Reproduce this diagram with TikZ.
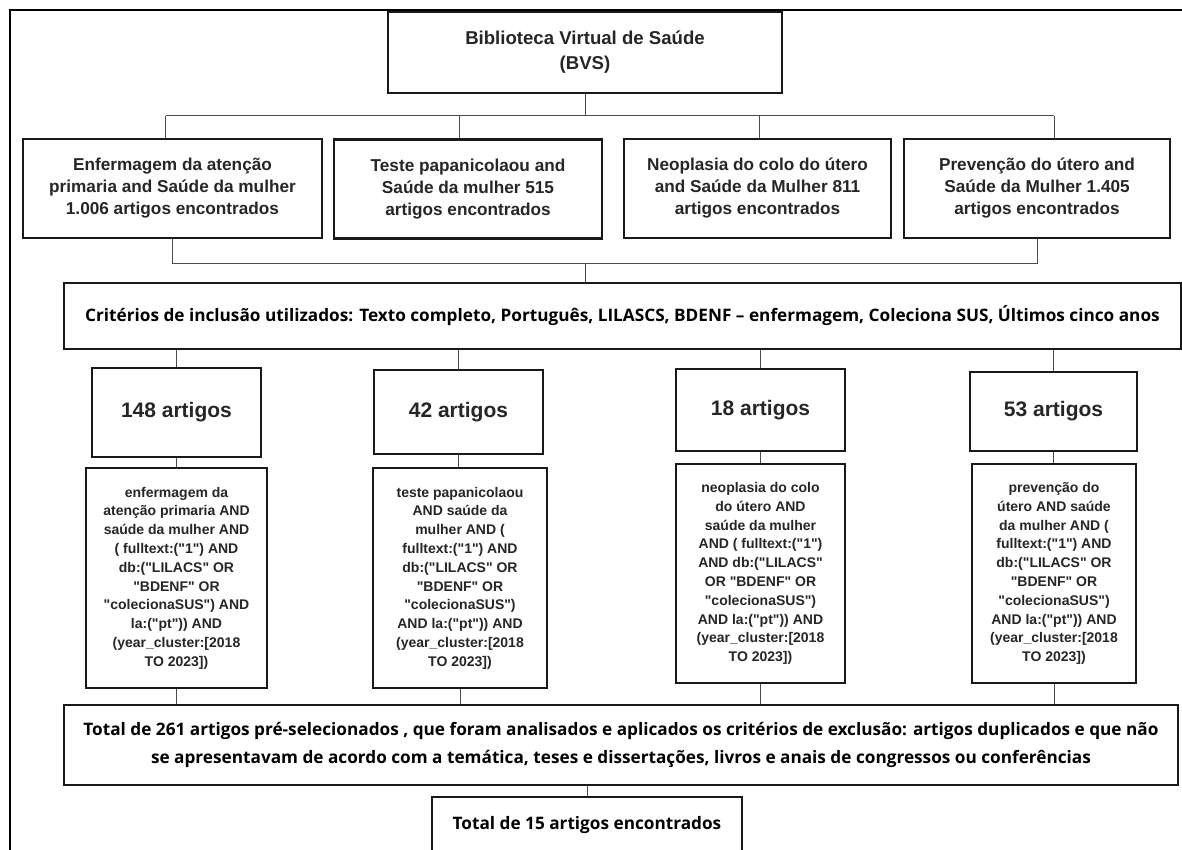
\documentclass[tikz,border=0pt]{standalone}
\usepackage{fontspec}
\setmainfont{Liberation Sans}[Ligatures=TeXOff]
\newfontfamily\opensans{Open Sans}
\tikzset{
  box/.style    = {rectangle, draw=black!90, line width=2.4pt, fill=white,
                   align=center, inner sep=0pt, text=black!85},
  topbox/.style = {box, minimum height=99pt,
                   font=\fontsize{17.2}{22}\selectfont\bfseries},
  cntbox/.style = {box, minimum width=169pt,
                   font=\fontsize{21}{25}\selectfont\bfseries},
  qrybox/.style = {box, minimum height=220pt,
                   font=\fontsize{14}{18.8}\selectfont\bfseries},
  widebox/.style= {box, line width=2pt, text=black,
                   font=\opensans\bfseries\fontsize{17.2}{28}\selectfont},
  link/.style   = {draw=black!70, line width=1pt},
}

\begin{document}
\begin{tikzpicture}[x=1pt, y=-1pt]
  \useasboundingbox (0,0) rectangle (1182,850);
  % frame
  \draw[line width=2pt] (10,850) -- (10,10) -- (1182,10);

  \node[box, minimum width=394pt, minimum height=81pt,
        font=\fontsize{18.6}{25}\selectfont\bfseries] (bvs) at (585,52.5)
        {Biblioteca Virtual de Saúde\\(BVS)};

  \node[topbox, minimum width=299pt] (t1) at (172.5,188.5)
        {Enfermagem da atenção\\primaria and Saúde da mulher\\1.006 artigos encontrados};
  \node[topbox, minimum width=268pt] (t2) at (468,189)
        {Teste papanicolaou and\\Saúde da mulher 515\\artigos encontrados};
  \node[topbox, minimum width=267pt] (t3) at (757.5,188.5)
        {Neoplasia do colo do útero\\and Saúde da Mulher 811\\artigos encontrados};
  \node[topbox, minimum width=266pt] (t4) at (1037,188.5)
        {Prevenção do útero and\\Saúde da Mulher 1.405\\artigos encontrados};

  \node[widebox, minimum width=1117pt, minimum height=66pt] (crit) at (622.5,316)
        {Critérios de inclusão utilizados: Texto completo, Português, LILASCS, BDENF – enfermagem, Coleciona SUS, Últimos cinco anos};

  \node[cntbox, minimum height=89pt] (c1) at (176.5,412.5) {148 artigos};
  \node[cntbox, minimum height=84pt] (c2) at (458.5,412) {42 artigos};
  \node[cntbox, minimum height=82pt] (c3) at (760.5,410) {18 artigos};
  \node[cntbox, minimum width=167pt, minimum height=79pt] (c4) at (1053.5,411.5) {53 artigos};

  \node[qrybox, minimum width=181pt] (q1) at (176.5,578)
        {enfermagem da\\atenção primaria AND\\saúde da mulher AND\\( fulltext:("1") AND\\db:("LILACS" OR\\"BDENF" OR\\"colecionaSUS") AND\\la:("pt")) AND\\(year\_cluster:[2018\\TO 2023])};
  \node[qrybox, minimum width=174pt] (q2) at (460,578)
        {teste papanicolaou\\AND saúde da\\mulher AND (\\fulltext:("1") AND\\db:("LILACS" OR\\"BDENF" OR\\"colecionaSUS")\\AND la:("pt")) AND\\(year\_cluster:[2018\\TO 2023])};
  \node[qrybox, minimum width=169pt, minimum height=219pt] (q3) at (760.5,573.5)
        {neoplasia do colo\\do útero AND\\saúde da mulher\\AND ( fulltext:("1")\\AND db:("LILACS"\\OR "BDENF" OR\\"colecionaSUS")\\AND la:("pt")) AND\\(year\_cluster:[2018\\TO 2023])};
  \node[qrybox, minimum width=164pt, minimum height=219pt] (q4) at (1054,573.5)
        {prevenção do\\útero AND saúde\\da mulher AND (\\fulltext:("1") AND\\db:("LILACS" OR\\"BDENF" OR\\"colecionaSUS")\\AND la:("pt")) AND\\(year\_cluster:[2018\\TO 2023])};

  \node[widebox, minimum width=1114pt, minimum height=80pt] (total) at (621,745)
        {Total de 261 artigos pré-selecionados , que foram analisados e aplicados os critérios de exclusão: artigos duplicados e que não\\se apresentavam de acordo com a temática, teses e dissertações, livros e anais de congressos ou conferências};

  \node[widebox, minimum width=310pt, minimum height=56pt] (final) at (587,825)
        {Total de 15 artigos encontrados};

  % connectors
  \coordinate (bus1) at (0,116);
  \coordinate (bus2) at (0,263);
  \draw[link] (bvs.south) -- (bvs.south |- bus1);
  \draw[link] ([xshift=-7pt]t1.north |- bus1) -- ([xshift=17pt]t4.north |- bus1);
  \foreach \n/\d in {t1/-7pt, t2/-9pt, t3/1.5pt, t4/17pt}
    \draw[link] ([xshift=\d]\n.north) -- ([xshift=\d]\n.north |- bus1);
  \draw[link] (t1.south) |- (t4.south |- bus2) -- (t4.south);
  \draw[link] (bvs.south |- bus2) -- (bvs.south |- crit.north);
  \foreach \i in {1,...,4} {
    \draw[link] (c\i.north |- crit.south) -- (c\i.north);
    \draw[link] (c\i.south) -- (c\i.south |- q\i.north);
    \draw[link] (q\i.south) -- (q\i.south |- total.north);
  }
  \draw[link] (final.north) -- (final.north |- total.south);
\end{tikzpicture}
\end{document}
